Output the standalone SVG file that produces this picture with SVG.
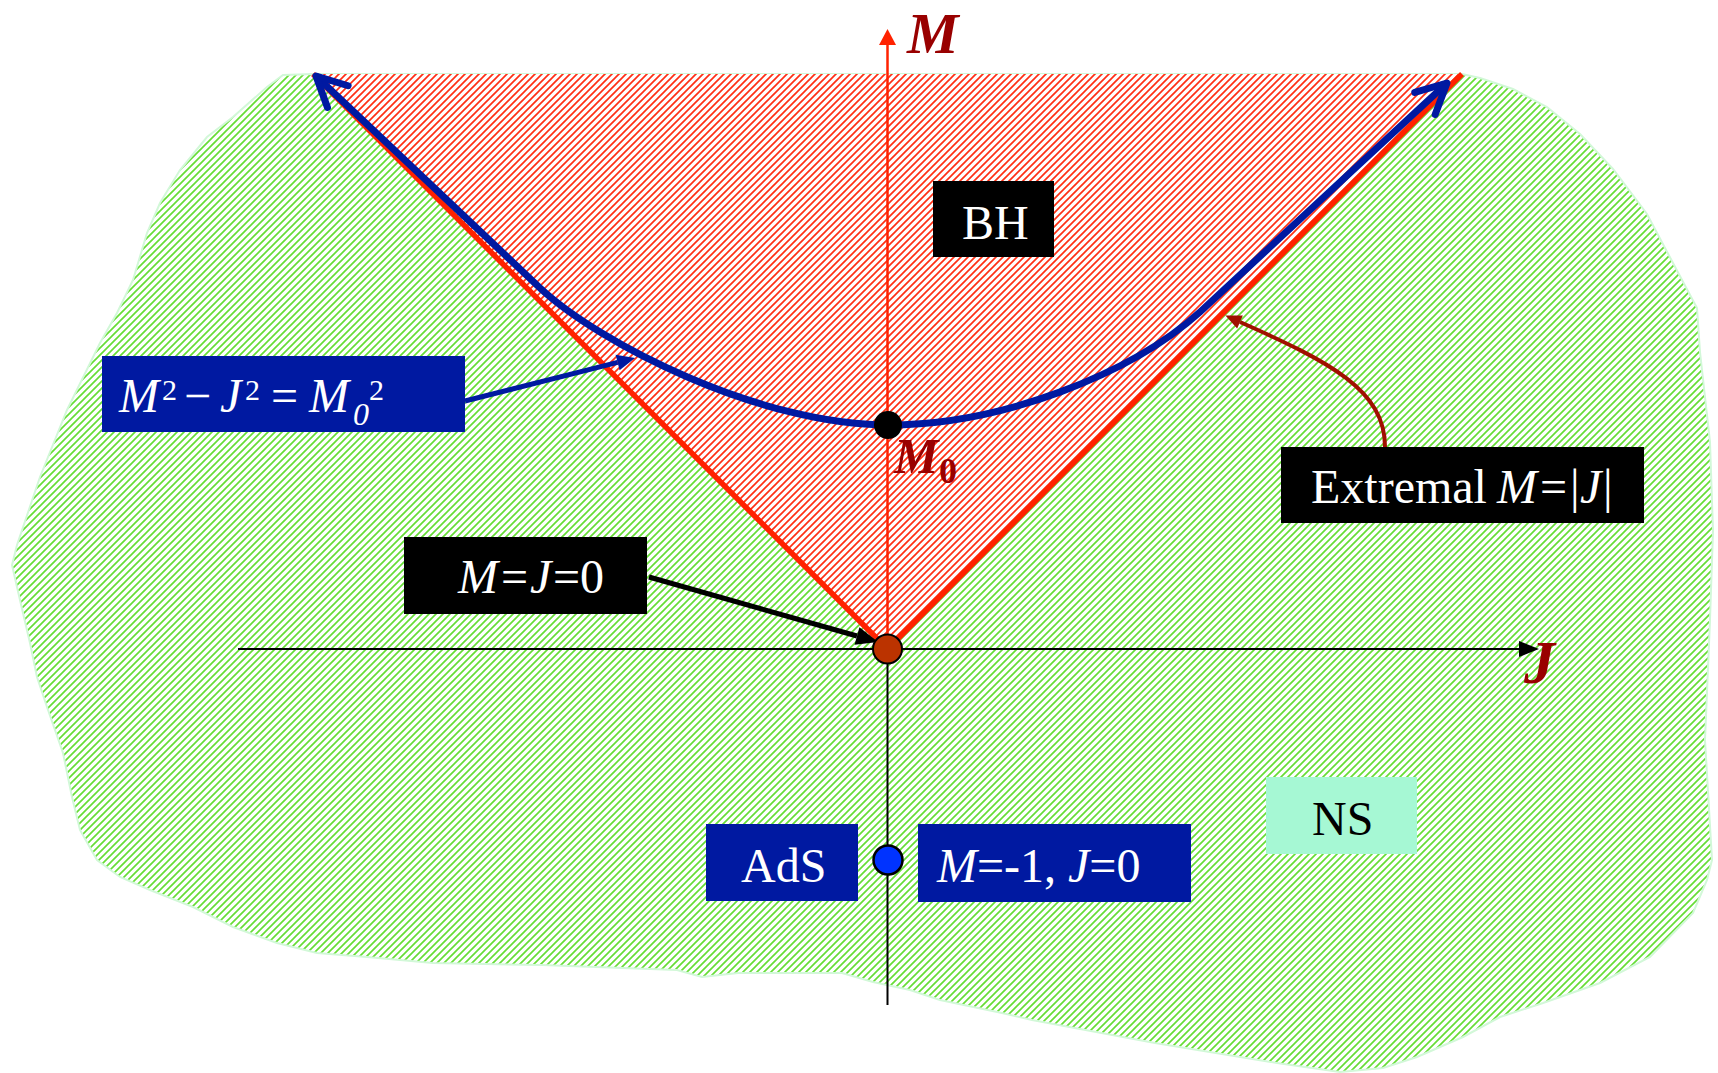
<svg xmlns="http://www.w3.org/2000/svg" width="1718" height="1073" viewBox="0 0 1718 1073">
<style>
.t{font-family:"Liberation Serif","Times New Roman",serif;}
.w{fill:#ffffff;font-size:48px;}
.i{font-style:italic;}
.dr{fill:#990000;font-weight:bold;font-style:italic;}
.blue{fill:#0019A1;}
.blk{fill:#000000;}
</style>
<defs>
<pattern id="hg" width="7" height="7" patternUnits="userSpaceOnUse">
<path d="M-1,8 L8,-1 M-1,1 L1,-1 M6,8 L8,6" stroke="#66dd36" stroke-width="1.7" fill="none"/>
</pattern>
<pattern id="hr" width="7" height="7" patternUnits="userSpaceOnUse">
<rect width="7" height="7" fill="#ffffff"/>
<path d="M-1,8 L8,-1 M-1,1 L1,-1 M6,8 L8,6" stroke="#ff3014" stroke-width="1.7" fill="none"/>
</pattern>
<marker id="aBlk" markerUnits="userSpaceOnUse" markerWidth="40" markerHeight="40" refX="0" refY="0" orient="auto" overflow="visible"><path d="M0,-9 L22,0 L0,9 Z" fill="#000"/></marker>
<marker id="aAx" markerUnits="userSpaceOnUse" markerWidth="40" markerHeight="40" refX="0" refY="0" orient="auto" overflow="visible"><path d="M0,-8 L20,0 L0,8 Z" fill="#000"/></marker>
<marker id="aRedAx" markerUnits="userSpaceOnUse" markerWidth="40" markerHeight="40" refX="0" refY="0" orient="auto" overflow="visible"><path d="M0,-8.5 L16,0 L0,8.5 Z" fill="#ff2200"/></marker>
<marker id="aBlue" markerUnits="userSpaceOnUse" markerWidth="40" markerHeight="40" refX="0" refY="0" orient="auto" overflow="visible"><path d="M0,-8 L18,0 L0,8 Z" fill="#0019A1"/></marker>
<marker id="aDR" markerUnits="userSpaceOnUse" markerWidth="40" markerHeight="40" refX="0" refY="0" orient="auto" overflow="visible"><path d="M0,-7 L16,0 L0,7 Z" fill="#a01000"/></marker>
<marker id="chev" markerUnits="userSpaceOnUse" markerWidth="60" markerHeight="60" refX="0" refY="0" orient="auto-start-reverse" overflow="visible"><path d="M-30,-15 L0,0 L-30,15" fill="none" stroke="#0019A1" stroke-width="7" stroke-linecap="round" stroke-linejoin="round"/></marker>
</defs>

<g id="regions">
<path id="ns-region" d="M313,74 L283,75 L267,87 L233,117 L207,137 L180,170 L160,203 L147,233 L133,280 L117,313 L100,343 L67,410 L40,477 L17,545 L12,565 L17,587 L23,613 L30,643 L37,677 L47,707 L63,753 L72,797 L80,830 L97,860 L120,877 L150,890 L193,907 L233,927 L277,943 L317,953 L367,957 L433,963 L542,965 L677,970 L702,977 L738,973 L842,973 L873,982 L910,990 L940,1000 L1002,1013 L1032,1020 L1155,1043 L1277,1063 L1340,1072 L1383,1068 L1417,1057 L1463,1037 L1500,1017 L1543,1003 L1600,983 L1650,957 L1693,913 L1707,880 L1712,860 L1705,740 L1710,620 L1713,531 L1710,442 L1700,352 L1697,308 L1673,263 L1647,214 L1613,169 L1580,134 L1547,107 L1513,89 L1480,78 L1462,74 Z" fill="url(#hg)" stroke="#d2f8d8" stroke-width="2"/>
<path id="bh-region" d="M313,74 L1462,74 L887.5,649 Z" fill="url(#hr)"/>
</g>

<g id="axes">
<line x1="887.5" y1="649" x2="887.5" y2="1005" stroke="#000" stroke-width="2"/>
<line x1="887.5" y1="649" x2="887.5" y2="45" stroke="#ff2200" stroke-width="2.5" marker-end="url(#aRedAx)"/>
<line x1="238" y1="649" x2="1519" y2="649" stroke="#000" stroke-width="2" marker-end="url(#aAx)"/>
<path d="M313,74 L887.5,649 L1462,74" fill="none" stroke="#ff2200" stroke-width="5.5"/>
</g>

<g id="connectors" fill="none">
<path id="hyperbola" d="M316,76 L540,288 C600,344 760,425 888,425 C1000,425 1130,375 1200,312 L1447,83" stroke="#0019A1" stroke-width="7" marker-start="url(#chev)" marker-end="url(#chev)"/>
<path d="M465,401 L617.6,362.4" stroke="#0019A1" stroke-width="5" marker-end="url(#aBlue)"/>
<path d="M649,577 L857,636" stroke="#000" stroke-width="5" marker-end="url(#aBlk)"/>
<path d="M1385,447 C1385,390 1330,362 1240,322" stroke="#a01000" stroke-width="4" marker-end="url(#aDR)"/>
</g>

<g id="origin"><circle cx="887.5" cy="649" r="14.5" fill="#bb3300" stroke="#000" stroke-width="2"/></g>
<g id="m0-point"><circle cx="888" cy="425" r="14" fill="#000"/></g>
<g id="ads-point"><circle cx="888" cy="860" r="14.5" fill="#0033ff" stroke="#000" stroke-width="2.5"/></g>

<g id="axis-labels">
<text class="t dr" x="907" y="53" font-size="58">M</text>
<text class="t dr" x="1524" y="683" font-size="62">J</text>
<text class="t dr" x="894" y="473" font-size="50">M</text>
<text class="t" x="939" y="483" font-size="36" font-weight="bold" fill="#990000">0</text>
</g>

<g id="bh">
<rect x="933" y="181" width="121" height="76" class="blk"/>
<text class="t w" x="962" y="239">BH</text>
</g>

<g id="hyperbola-label">
<rect x="102" y="356" width="363" height="76" class="blue"/>
<text class="t w"><tspan class="i" x="119" y="412">M</tspan><tspan x="162" y="400" font-size="30">2</tspan><tspan x="184" y="412">−</tspan><tspan class="i" x="220" y="412">J</tspan><tspan x="245" y="400" font-size="30">2</tspan><tspan x="271" y="412">=</tspan><tspan class="i" x="309" y="412">M</tspan><tspan class="i" x="353" y="425" font-size="32">0</tspan><tspan x="369" y="400" font-size="30">2</tspan></text>
</g>

<g id="mj0">
<rect x="404" y="537" width="243" height="77" class="blk"/>
<text class="t w"><tspan class="i" x="458" y="593">M</tspan><tspan x="501" y="593">=</tspan><tspan class="i" x="530" y="593">J</tspan><tspan x="553" y="593">=</tspan><tspan x="580" y="593">0</tspan></text>
</g>

<g id="extremal">
<rect x="1281" y="447" width="363" height="76" class="blk"/>
<text class="t w"><tspan x="1311" y="503">Extremal </tspan><tspan class="i" x="1497" y="503">M</tspan><tspan x="1540" y="503">=</tspan><tspan x="1570" y="503">|</tspan><tspan class="i" x="1580" y="503">J</tspan><tspan x="1603" y="503">|</tspan></text>
</g>

<g id="ns">
<rect x="1266" y="777" width="151" height="77" fill="#a6f8d4"/>
<text class="t" x="1312" y="835" font-size="48" fill="#000">NS</text>
</g>

<g id="ads">
<rect x="706" y="824" width="152" height="77" class="blue"/>
<text class="t w" x="741" y="882">AdS</text>
</g>

<g id="ads-values">
<rect x="918" y="824" width="273" height="78" class="blue"/>
<text class="t w"><tspan class="i" x="937" y="882">M</tspan><tspan>=-1, </tspan><tspan class="i">J</tspan><tspan>=0</tspan></text>
</g>
</svg>
